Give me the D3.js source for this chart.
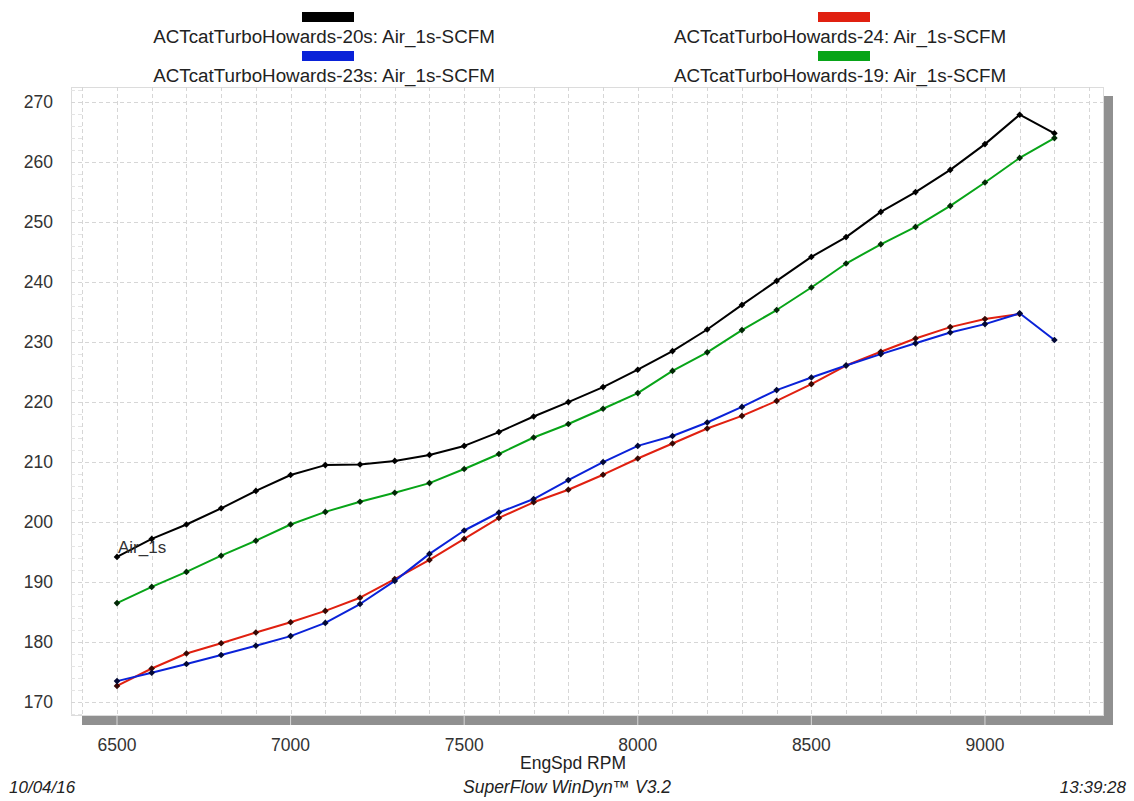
<!DOCTYPE html>
<html>
<head>
<meta charset="utf-8">
<script src="https://cdn.jsdelivr.net/npm/d3@7"></script>
<style>
  body { margin: 0; background: #fff; }
  text { font-family: "Liberation Sans", Arial, sans-serif; fill: #222; }
</style>
</head>
<body>
<svg id="chart" width="1134" height="801"></svg>
<script>
// engine speed points, 100 rpm steps
var rpm = [6500,6600,6700,6800,6900,7000,7100,7200,7300,7400,7500,7600,7700,7800,
           7900,8000,8100,8200,8300,8400,8500,8600,8700,8800,8900,9000,9100,9200];

var run20s = [194.1,197.1,199.5,202.2,205.1,207.75,209.4,209.5,210.1,211.1,212.6,214.9,217.5,219.9,
              222.4,225.3,228.4,232.0,236.1,240.1,244.1,247.4,251.6,254.9,258.6,262.9,267.8,264.7];
var run24  = [172.6,175.5,178.0,179.7,181.5,183.2,185.1,187.3,190.4,193.6,197.1,200.6,203.2,205.3,
              207.8,210.5,213.0,215.5,217.6,220.1,222.9,226.0,228.3,230.5,232.4,233.75,234.6];
var run23s = [173.4,174.8,176.25,177.75,179.3,180.9,183.1,186.25,190.1,194.6,198.5,201.5,203.75,206.9,
              209.9,212.6,214.25,216.5,219.1,221.9,224.0,226.0,227.9,229.7,231.5,232.9,234.7,230.25];
var run19  = [186.4,189.1,191.6,194.3,196.8,199.5,201.6,203.3,204.8,206.4,208.75,211.25,214.0,216.25,
              218.8,221.4,225.1,228.2,231.9,235.25,239.0,243.0,246.2,249.1,252.6,256.5,260.6,263.9];

var seriesNames  = ["ACTcatTurboHowards-20s: Air_1s-SCFM", "ACTcatTurboHowards-24: Air_1s-SCFM",
                    "ACTcatTurboHowards-23s: Air_1s-SCFM", "ACTcatTurboHowards-19: Air_1s-SCFM"];
var seriesColors = ["#000000", "#e02010", "#0a22d8", "#08a418"];
var seriesValues = [run20s, run24, run23s, run19];

var yTicks = [170,180,190,200,210,220,230,240,250,260,270];
var xTicks = [6500,7000,7500,8000,8500,9000];

var svg = d3.select("#chart");

var pL = 71, pR = 1103, pT = 87, pB = 715;
var x = d3.scaleLinear().domain([6367.5, 9340]).range([pL, pR]);
var y = d3.scaleLinear().domain([167.75, 272.42]).range([pB, pT]);

// drop shadow of the plot box
svg.append("rect").attr("x", pR).attr("y", pT + 9).attr("width", 10).attr("height", pB - pT + 1)
    .attr("fill", "#909090");
svg.append("rect").attr("x", pL + 11).attr("y", pB).attr("width", pR - pL - 1).attr("height", 10)
    .attr("fill", "#909090");
xTicks.forEach(function (t) {
    svg.append("line").attr("x1", x(t)).attr("x2", x(t)).attr("y1", pB).attr("y2", pB + 10)
        .attr("stroke", "#d8d8d8").attr("stroke-width", 1);
});

svg.append("rect").attr("x", pL + 0.5).attr("y", pT + 0.5).attr("width", pR - pL).attr("height", pB - pT)
    .attr("fill", "#fff").attr("stroke", "#dcdcdc").attr("stroke-width", 1);

// grid
var grid = svg.append("g").attr("stroke", "#d6d6d6").attr("stroke-width", 1).attr("stroke-dasharray", "4,3");
d3.range(6400, 9301, 100).forEach(function (r) {
    grid.append("line").attr("x1", Math.round(x(r)) + 0.5).attr("x2", Math.round(x(r)) + 0.5).attr("y1", pT).attr("y2", pB);
});
yTicks.forEach(function (v) {
    grid.append("line").attr("x1", pL).attr("x2", pR).attr("y1", Math.round(y(v)) + 0.5).attr("y2", Math.round(y(v)) + 0.5);
});
d3.range(168, 273, 2).forEach(function (v) {
    if (v % 10 === 0) return;
    grid.append("line").attr("x1", pL).attr("x2", pL + 11).attr("y1", Math.round(y(v)) + 0.5).attr("y2", Math.round(y(v)) + 0.5)
        .attr("stroke", "#e4e4e4");
});

// axis labels
svg.append("g").selectAll("text").data(yTicks).enter().append("text")
    .attr("x", 53).attr("y", function (d) { return y(d) + 6; })
    .attr("text-anchor", "end").style("font-size", "17.5px").style("fill", "#333")
    .text(function (d) { return d; });

svg.append("g").selectAll("text").data(xTicks).enter().append("text")
    .attr("x", function (d) { return x(d); }).attr("y", 751)
    .attr("text-anchor", "middle").style("font-size", "17.5px").style("fill", "#333")
    .text(function (d) { return d; });

svg.append("text").attr("x", 573).attr("y", 769).attr("text-anchor", "middle")
    .style("font-size", "17.5px").text("EngSpd RPM");

// curves
var line = d3.line()
    .x(function (d) { return x(d[0]); })
    .y(function (d) { return y(d[1]); });

var marker = d3.symbol().type(d3.symbolSquare).size(22)();

seriesValues.forEach(function (vals, i) {
    var pts = vals.map(function (v, k) { return [rpm[k], v]; });
    svg.append("path").datum(pts)
        .attr("fill", "none").attr("stroke", seriesColors[i]).attr("stroke-width", 2)
        .attr("stroke-linejoin", "round").attr("d", line);
    svg.append("g").selectAll("path").data(pts).enter().append("path")
        .attr("d", marker)
        .attr("transform", function (d) { return "translate(" + x(d[0]) + "," + y(d[1]) + ") rotate(45)"; })
        .attr("fill", i == 0 ? "#000" : d3.interpolateRgb(seriesColors[i], "#000")(0.75));
});

svg.append("text").attr("x", 118).attr("y", 553).style("font-size", "17px").style("fill", "#333").text("Air_1s");

// legend
var legendPos = [[328, 324, 17, 43], [844, 840, 17, 43], [328, 324, 56, 82], [844, 840, 56, 82]];
seriesNames.forEach(function (name, i) {
    var p = legendPos[i];
    svg.append("rect").attr("x", p[0] - 26).attr("y", p[2] - 5).attr("width", 52).attr("height", 10)
        .attr("fill", seriesColors[i]);
    svg.append("text").attr("x", p[1]).attr("y", p[3]).attr("text-anchor", "middle")
        .style("font-size", "18.8px").text(name);
});

// footer
svg.append("text").attr("x", 9).attr("y", 793).style("font-size", "17px").style("font-style", "italic").text("10/04/16");
svg.append("text").attr("x", 567).attr("y", 793).attr("text-anchor", "middle")
    .style("font-size", "17.5px").style("font-style", "italic").text("SuperFlow  WinDyn\u2122 V3.2");
svg.append("text").attr("x", 1126).attr("y", 793).attr("text-anchor", "end")
    .style("font-size", "17px").style("font-style", "italic").text("13:39:28");
</script>
</body>
</html>
